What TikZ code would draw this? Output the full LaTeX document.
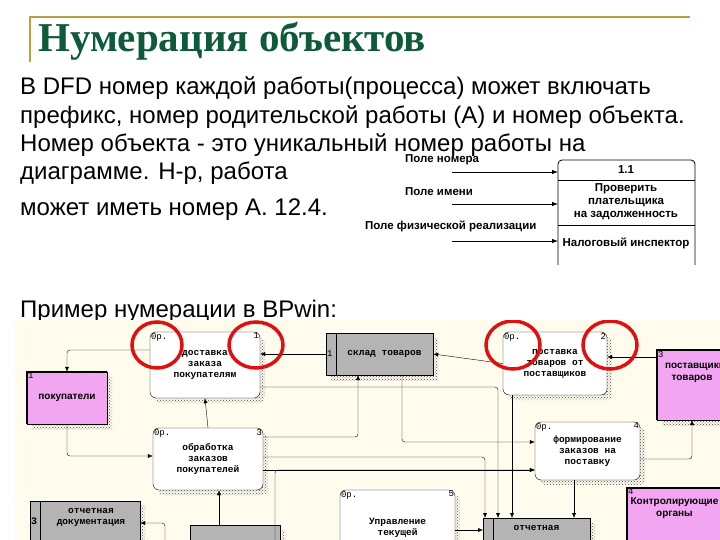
\documentclass[tikz,border=0pt]{standalone}
\usepackage{fontspec}
\setmainfont{Liberation Sans}
\newfontfamily\ttl{Liberation Serif}
\newfontfamily\dgm{Liberation Mono}
\usetikzlibrary{arrows.meta,patterns,shadows}
\definecolor{ttlgreen}{HTML}{0F5A3A}
\definecolor{gold}{HTML}{B8A040}
\definecolor{cream}{HTML}{FFFCEE}
\definecolor{mag}{HTML}{F2A6F2}
\definecolor{boxgray}{HTML}{B4B4B4}
\definecolor{circ}{HTML}{E01010}
\begin{document}
\begin{tikzpicture}[x=1pt,y=-1pt,
  body/.style={anchor=base west,font=\fontsize{24}{28}\selectfont,inner sep=0},
  hatch/.style={general shadow={shadow xshift=5pt,shadow yshift=-5pt,draw=none,pattern=crosshatch dots,pattern color=black!70}},
  proc/.style={draw,rounded corners=6pt,fill=white,hatch,font=\dgm\bfseries\fontsize{9.5}{11}\selectfont,align=center,inner sep=0},
  ext/.style={draw,fill=mag,hatch,font=\bfseries\fontsize{10}{12}\selectfont,align=center,inner sep=0},
  store/.style={draw,fill=boxgray,hatch,font=\dgm\bfseries\fontsize{9.5}{11}\selectfont,align=center,inner sep=0},
  sm/.style={font=\dgm\fontsize{9}{10}\selectfont,inner sep=1pt},
  fig/.style={font=\bfseries\fontsize{11.5}{13}\selectfont,inner sep=0},
  con/.style={-{Latex[length=5pt,width=4pt]},thin,rounded corners=3pt},
  ring/.style={draw=circ,line width=3.5pt}]
\useasboundingbox (0,0) rectangle (720,540);
\fill[white] (0,0) rectangle (720,540);
% title
\draw[gold,line width=1.2pt] (30,62) |- (690,17);
\node[anchor=base west,text=ttlgreen,font=\ttl\bfseries\fontsize{41}{44}\selectfont,inner sep=0] (title) at (38,52) {Нумерация объектов};
% body text
\node[body] (t1) at (20,95) {В DFD номер каждой работы(процесса) может включать};
\node[body] (t2) at (20,124) {префикс, номер родительской работы (А) и номер объекта.};
\node[body] (t3) at (20,152) {Номер объекта - это уникальный номер работы на};
\node[body] (t4) at (20,180) {диаграмме. Н-р, работа};
\node[body] (t5) at (20,215) {может иметь номер А. 12.4.};
\node[body] (t6) at (20,317) {Пример нумерации в BPwin:};
% top-right figure
\draw[rounded corners=4pt,thick,fill=white] (558,265) |- (695,160) -- (695,265);
\draw[thick] (558,180) -- (695,180) (558,225) -- (695,225);
\node[fig] (n11) at (626,170) {1.1};
\node[fig,align=center] (nname) at (626,202) {Проверить\\плательщика\\на задолженность};
\node[fig] (nins) at (626,243) {Налоговый инспектор};
\node[fig,anchor=west] (l1) at (405,160) {Поле номера};
\node[fig,anchor=west] (l2) at (405,192) {Поле имени};
\node[fig,anchor=west] (l3) at (365,226) {Поле физической реализации};
\coordinate (a1) at (452,172); \coordinate (a2) at (452,204); \coordinate (a3) at (452,241);
\draw[-{Latex[length=6pt]},thick] (a1) -- (558,172);
\draw[-{Latex[length=6pt]},thick] (a2) -- (558,204);
\draw[-{Latex[length=6pt]},thick] (a3) -- (558,241);
% diagram background
\fill[cream] (15,320) rectangle (720,540);
\begin{scope}
\clip (15,320) rectangle (720,540);
% nodes
\node[proc,minimum width=110pt,minimum height=66pt] (p1) at (205,365) {доставка\\заказа\\покупателям};
\node[proc,minimum width=110pt,minimum height=62pt] (p3) at (208,459) {обработка\\заказов\\покупателей};
\node[proc,minimum width=104pt,minimum height=63pt] (p2) at (555,363.5) {поставка\\товаров от\\поставщиков};
\node[proc,minimum width=105pt,minimum height=58pt] (p4) at (587.5,451) {формирование\\заказов на\\поставку};
\node[proc,minimum width=115pt,minimum height=70pt] (p5) at (397.5,525) {\\Управление\\текущей};
\node[store,minimum width=107pt,minimum height=42pt] (s1) at (379.5,354) {\hspace*{10pt}склад товаров};
\node[store,minimum width=110pt,minimum height=50pt] (s3) at (85,526) {\hspace*{12pt}отчетная\\\hspace*{12pt}документация\\[8pt]};
\node[store,minimum width=107pt,minimum height=40pt] (s4) at (536.5,538) {отчетная\\[10pt]};
\node[store,minimum width=90pt,minimum height=40pt] (s5) at (235,545) {};
\node[ext,minimum width=80pt,minimum height=52pt] (e1) at (67,398) {покупатели};
\node[ext,minimum width=70pt,minimum height=70pt] (e3) at (692,385) {\hspace*{6pt}поставщики\\товаров\\[14pt]};
\node[ext,minimum width=95pt,minimum height=60pt] (e4) at (674.5,518) {Контролирующие\\органы\\[10pt]};
\draw[line width=2.5pt] (e1.south west) |- (e1.north east);
\draw[line width=2.5pt] (e3.south west) |- (e3.north east);
\draw[line width=2.5pt] (e4.south west) |- (e4.north east);
\draw (336,333) -- (336,375);
\draw (40,501) -- (40,551);
\draw (493,518) -- (493,558);
% small labels
\node[sm,anchor=north west] (o1) at (p1.north west) {0р.};
\node[sm,anchor=north east] (n1) at (p1.north east) {1};
\node[sm,anchor=north west] (o3) at (p3.north west) {0р.};
\node[sm,anchor=north east] (n3) at (p3.north east) {3};
\node[sm,anchor=north west] (o2) at (p2.north west) {0р.};
\node[sm,anchor=north east] (n2) at (p2.north east) {2};
\node[sm,anchor=north west] (o4) at (p4.north west) {0р.};
\node[sm,anchor=north east] (n4) at (p4.north east) {4};
\node[sm,anchor=north west] (o5) at (p5.north west) {0р.};
\node[sm,anchor=north east] (n5) at (p5.north east) {5};
\node[sm,anchor=west] (ns1) at (s1.west) {1};
\node[sm,anchor=west,font=\dgm\bfseries\fontsize{10}{11}\selectfont] (ns3) at (30,521) {3};
\node[sm,anchor=north west] (ne1) at (e1.north west) {1};
\node[sm,anchor=north west] (ne3) at (e3.north west) {3};
\node[sm,anchor=north west] (ne4) at (e4.north west) {4};
% connectors
\draw[con] (p1.west |- 0,350) -| (e1.north);
\draw[con] (s1.west) -- (p1.east |- s1.west);
\draw[con] (p1.east |- 0,387) -| (498,518);
\draw[con] (p3.north) -- (p1.south);
\draw[con] (e1.south) |- (p3.west |- 0,456);
\draw[con] (p3.east |- 0,437) -| (358,375);
\draw[con] (p3.east |- 0,457) -| (485,518);
\draw[con] (p3.east |- 0,470) -- (p4.west |- 0,470);
\draw[con] (275,540) |- (p4.west |- 0,470);
\draw[con] (402,375) |- (p4.west |- 0,442);
\draw[con] (p2.west) -- (s1.east);
\draw[con] (e3.west |- 0,357) -- (p2.east |- 0,357);
\draw[con] (512,395) -- (512,518);
\draw[con] (574,480) -- (574,518);
\draw[con] (p4.east |- 0,459) -| (692,420);
\draw[con] (219,525) -- (p3.south -| 219,0);
\draw[con] (165,540) |- (s3.east |- 0,523);
\draw[con] (p5.east |- 0,530) -- (483,530);
% red rings
\draw[ring] (157,345) ellipse (25pt and 23pt);
\draw[ring] (256,345) ellipse (27pt and 23pt);
\draw[ring] (513,345) ellipse (27pt and 24pt);
\draw[ring] (610,345) ellipse (27pt and 24pt);
\end{scope}
\end{tikzpicture}
\end{document}
